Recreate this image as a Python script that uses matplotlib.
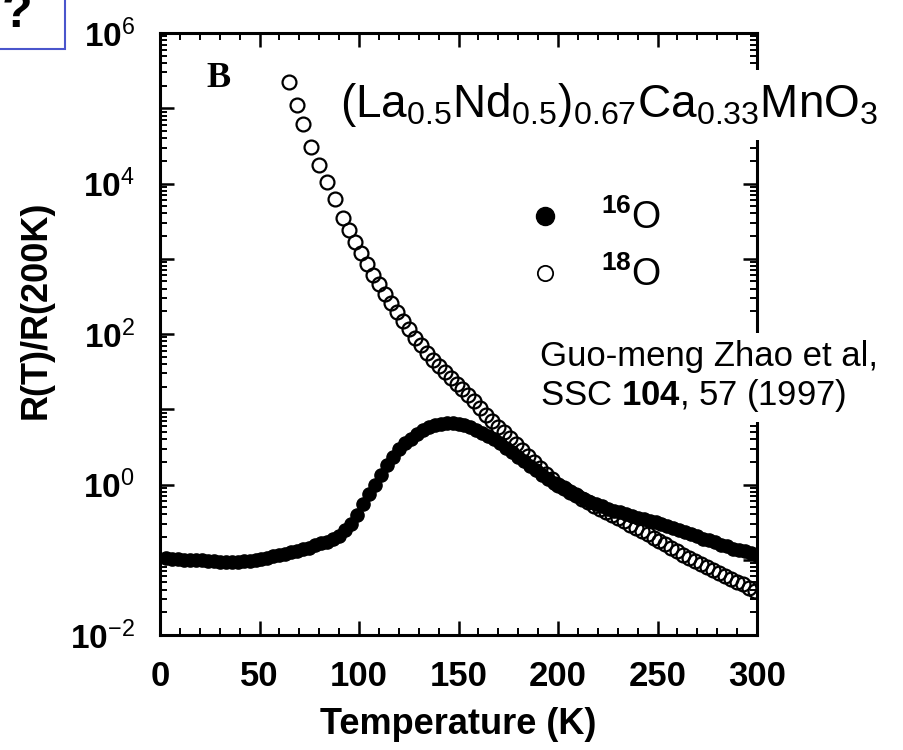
import math
import matplotlib
matplotlib.use("Agg")
import matplotlib.pyplot as plt
import matplotlib.ticker as ticker
from matplotlib.lines import Line2D
from matplotlib.patches import Rectangle

plt.rcParams['font.family'] = ['Liberation Sans', 'DejaVu Sans']
plt.rcParams['mathtext.fontset'] = 'custom'
plt.rcParams['mathtext.rm'] = 'Liberation Sans'
plt.rcParams['mathtext.bf'] = 'Liberation Sans:bold'
plt.rcParams['mathtext.it'] = 'Liberation Sans:italic'

# 16O sample: R(T)/R(200K)
temp_16 = [3, 6, 9, 12, 15, 18, 21, 24, 27, 30, 33, 36, 39, 42, 45, 48, 51, 54,
           57, 60, 63, 66, 69, 72, 75, 78, 81, 84, 87, 90, 93, 96, 99, 102, 105,
           108, 111, 114, 117, 120, 123, 126, 129, 132, 135, 138, 141, 144, 147,
           150, 153, 156, 159, 162, 165, 168, 171, 174, 177, 180, 183, 186, 189,
           192, 195, 198, 201, 204, 207, 210, 213, 216, 219, 222, 225, 228, 231,
           234, 237, 240, 243, 246, 249, 252, 255, 258, 261, 264, 267, 270, 273,
           276, 279, 282, 285, 288, 291, 294, 297, 300]
ratio_16 = [0.105, 0.102, 0.102, 0.100, 0.100, 0.098, 0.098, 0.096, 0.096, 0.093,
            0.093, 0.093, 0.093, 0.095, 0.097, 0.100, 0.102, 0.107, 0.112, 0.115,
            0.120, 0.126, 0.132, 0.138, 0.145, 0.155, 0.166, 0.174, 0.191, 0.209,
            0.245, 0.302, 0.389, 0.550, 0.741, 1.00, 1.35, 1.82, 2.34, 2.95,
            3.55, 4.07, 4.68, 5.25, 5.75, 6.17, 6.46, 6.61, 6.61, 6.46,
            6.17, 5.75, 5.25, 4.79, 4.37, 3.98, 3.55, 3.09, 2.69, 2.34,
            2.04, 1.78, 1.55, 1.35, 1.17, 1.05, 0.955, 0.871, 0.776, 0.708,
            0.646, 0.589, 0.550, 0.513, 0.479, 0.447, 0.427, 0.407, 0.380, 0.363,
            0.347, 0.331, 0.316, 0.295, 0.282, 0.263, 0.251, 0.234, 0.219, 0.204,
            0.191, 0.182, 0.170, 0.158, 0.151, 0.141, 0.135, 0.129, 0.123, 0.117]

# 18O sample: R(T)/R(200K)
temp_18 = [65, 69, 72, 76, 80, 84, 88, 92, 95, 98, 101, 104, 107, 110, 113, 116,
           119, 122, 125, 128, 131, 134, 137, 140, 143, 146, 149, 152, 155, 158,
           161, 164, 167, 170, 173, 176, 179, 182, 185, 188, 191, 194, 197, 200,
           203, 206, 209, 212, 215, 218, 221, 224, 227, 230, 233, 236, 239, 242,
           245, 248, 251, 254, 257, 260, 263, 266, 269, 272, 275, 278, 281, 284,
           287, 290, 293, 296, 299]
ratio_18 = [2.24e5, 1.10e5, 6.17e4, 3.09e4, 1.78e4, 1.05e4, 6170, 3470, 2400, 1660,
            1175, 851, 617, 457, 339, 257, 195, 148, 115, 89.1,
            70.8, 56.2, 45.7, 37.2, 30.9, 25.7, 21.9, 18.6, 15.5, 12.9,
            10.5, 8.51, 7.08, 5.89, 5.01, 4.17, 3.47, 2.88, 2.40, 2.00,
            1.66, 1.38, 1.17, 1.00, 0.891, 0.794, 0.724, 0.646, 0.589, 0.525,
            0.479, 0.437, 0.389, 0.355, 0.324, 0.288, 0.263, 0.240, 0.219, 0.195,
            0.178, 0.162, 0.145, 0.132, 0.117, 0.107, 0.0955, 0.0871, 0.0794, 0.0724,
            0.0661, 0.0617, 0.0562, 0.0513, 0.0479, 0.0427, 0.0380]

x_ticks = [0, 50, 100, 150, 200, 250, 300]

fig = plt.figure(figsize=(9.04, 7.5), dpi=100)
ax = fig.add_axes([160 / 904, 115 / 750, 597 / 904, 602 / 750])

ax.plot(temp_16, ratio_16, 'o', color='black', markersize=9.5, zorder=3)
ax.plot(temp_18, ratio_18, 'o', markerfacecolor='none', markeredgecolor='black',
        markeredgewidth=1.6, markersize=10, zorder=4)

ax.set_yscale('log')
ax.set_xlim(0, 300)
ax.set_ylim(1e-2, 1e6)

ax.set_xticks(x_ticks)
ax.xaxis.set_minor_locator(ticker.MultipleLocator(10))
ax.yaxis.set_major_locator(ticker.LogLocator(base=10, subs=(1.0,), numticks=20))
ax.yaxis.set_minor_locator(ticker.LogLocator(base=10, subs=range(2, 10), numticks=20))


def decade_label(v, pos):
    e = int(round(math.log10(v)))
    if e % 2:
        return ''
    return r'$\mathbf{10}^{%d}$' % e


ax.yaxis.set_major_formatter(ticker.FuncFormatter(decade_label))
ax.yaxis.set_minor_formatter(ticker.NullFormatter())

for lab in ax.get_xticklabels():
    lab.set_fontweight('bold')
ax.tick_params(axis='x', which='major', labelsize=25, pad=18)
ax.tick_params(axis='y', which='major', labelsize=24, pad=18)
ax.tick_params(which='both', direction='in', top=True, right=True, width=1.8)
ax.tick_params(which='major', length=10)
ax.tick_params(which='minor', length=5, width=1.4)
for s in ax.spines.values():
    s.set_linewidth(2.2)

ax.set_xlabel('Temperature (K)', fontsize=26, fontweight='bold', labelpad=10)
ax.set_ylabel('R(T)/R(200K)', fontsize=26, fontweight='bold')
ax.yaxis.set_label_coords(-0.178, 0.54)

# legend for the two isotopes
handles = [Line2D([], [], marker='o', ls='none', color='black', markersize=13),
           Line2D([], [], marker='o', ls='none', markerfacecolor='none',
                  markeredgecolor='black', markeredgewidth=1.3, markersize=11)]
ax.legend(handles, [r'$^{\mathbf{16}}$O', r'$^{\mathbf{18}}$O'], loc='upper left',
          bbox_to_anchor=(0.582, 0.755), frameon=False, fontsize=27,
          handlelength=1.0, handletextpad=1.0, labelspacing=0.52, borderpad=0)

ax.text(0.078, 0.91, 'B', transform=ax.transAxes, fontsize=26, fontweight='bold',
        family='Liberation Serif')

fig.text(340 / 904, (750 - 117) / 750,
         r'$\mathrm{(La_{0.5}Nd_{0.5})_{0.67}Ca_{0.33}MnO_3}$',
         fontsize=33, va='baseline',
         bbox=dict(facecolor='white', edgecolor='none', pad=8))

fig.text(540 / 904, (750 - 405) / 750,
         'Guo-meng Zhao et al,\nSSC $\\mathbf{104}$, 57 (1997)',
         fontsize=25, va='baseline', linespacing=1.15,
         bbox=dict(facecolor='white', edgecolor='none', pad=6))

# corner of the slide box
fig.patches.append(Rectangle((-10 / 904, 701 / 750), 75 / 904, 60 / 750,
                             transform=fig.transFigure, facecolor='none',
                             edgecolor='#4a55cc', linewidth=1.5))
fig.text(2 / 904, (750 - 27) / 750, '?', fontsize=36, fontweight='bold',
         va='baseline')

fig.savefig('out.png', dpi=100)
